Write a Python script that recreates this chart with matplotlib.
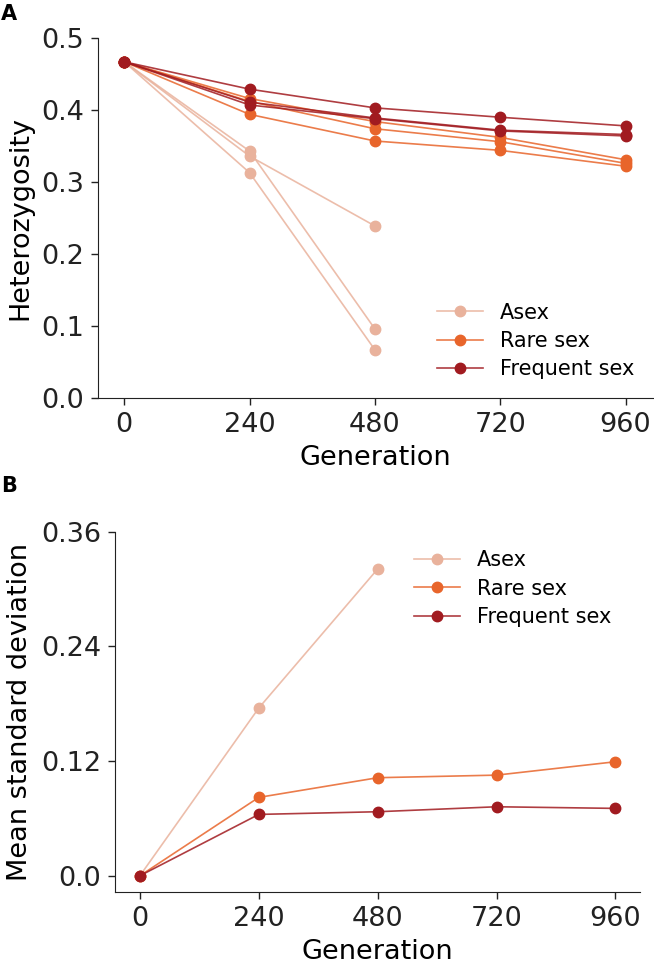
import matplotlib
matplotlib.use('Agg')
import matplotlib.pyplot as plt
from matplotlib.colors import to_rgba

generations = [0, 240, 480, 720, 960]

# panel A: heterozygosity, three replicate lines per treatment
asex_het = [
    [0.467, 0.343, 0.096],
    [0.467, 0.336, 0.239],
    [0.467, 0.313, 0.067],
]
rare_het = [
    [0.467, 0.416, 0.384, 0.362, 0.331],
    [0.467, 0.412, 0.374, 0.356, 0.326],
    [0.467, 0.394, 0.357, 0.344, 0.322],
]
freq_het = [
    [0.467, 0.429, 0.403, 0.390, 0.378],
    [0.467, 0.411, 0.389, 0.372, 0.366],
    [0.467, 0.407, 0.388, 0.371, 0.364],
]

# panel B: mean standard deviation
asex_sd = [0.0, 0.1755, 0.321]
rare_sd = [0.0, 0.082, 0.1026, 0.1053, 0.1193]
freq_sd = [0.0, 0.0642, 0.067, 0.0722, 0.0705]

labels = ['Asex', 'Rare sex', 'Frequent sex']
colors = ['#e9b29c', '#e8652b', '#a11b20']

plt.rcParams['font.family'] = ['DejaVu Sans']

TICK_SIZE = 19.5
LABEL_SIZE = 19.5


def draw_line(ax, xs, ys, color, label=None):
    ax.plot(xs, ys, color=to_rgba(color, 0.85), marker='o', markersize=7.5,
            markerfacecolor=color, markeredgecolor=color, linewidth=1.2, label=label)


def style_axes(ax):
    ax.spines['top'].set_visible(False)
    ax.spines['right'].set_visible(False)
    ax.spines['left'].set_color('#222222')
    ax.spines['bottom'].set_color('#222222')
    ax.tick_params(labelsize=TICK_SIZE, length=5, width=1, pad=5, colors='#222222')
    ax.set_xticks(generations)
    ax.set_xlabel('Generation', fontsize=LABEL_SIZE, labelpad=5)


fig = plt.figure(figsize=(6.54, 9.63), dpi=100)
ax_a = fig.add_axes([0.150, 0.5867, 0.848, 0.3738])
ax_b = fig.add_axes([0.176, 0.0740, 0.803, 0.3739])

# panel A
for series_list, label, color in zip([asex_het, rare_het, freq_het], labels, colors):
    for i, ys in enumerate(series_list):
        draw_line(ax_a, generations[:len(ys)], ys, color, label if i == 0 else None)
ax_a.set_xlim(-50, 1012)
ax_a.set_ylim(0, 0.5)
ax_a.set_yticks([0.0, 0.1, 0.2, 0.3, 0.4, 0.5])
ax_a.set_yticklabels(['0.0', '0.1', '0.2', '0.3', '0.4', '0.5'])
ax_a.set_ylabel('Heterozygosity', fontsize=LABEL_SIZE, labelpad=6)
style_axes(ax_a)
ax_a.legend(loc='lower right', bbox_to_anchor=(1.0, 0.0), frameon=False, fontsize=15,
            handlelength=2.2, labelspacing=0.4)

# panel B
for ys, label, color in zip([asex_sd, rare_sd, freq_sd], labels, colors):
    draw_line(ax_b, generations[:len(ys)], ys, color, label)
ax_b.set_xlim(-50, 1010)
ax_b.set_ylim(-0.0167, 0.36)
ax_b.set_yticks([0.0, 0.12, 0.24, 0.36])
ax_b.set_yticklabels(['0.0', '0.12', '0.24', '0.36'])
ax_b.set_ylabel('Mean standard deviation', fontsize=LABEL_SIZE, labelpad=6)
style_axes(ax_b)
ax_b.legend(loc='upper right', bbox_to_anchor=(0.98, 1.0), frameon=False, fontsize=15,
            handlelength=2.2, labelspacing=0.4)

fig.text(0.002, 0.996, 'A', fontsize=15, fontweight='bold', va='top')
fig.text(0.002, 0.506, 'B', fontsize=15, fontweight='bold', va='top')

fig.savefig('out.png', dpi=100)
